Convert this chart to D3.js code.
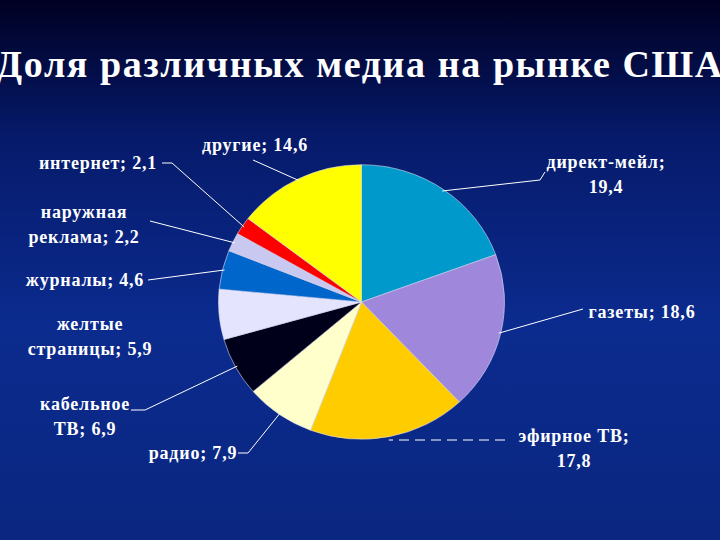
<!DOCTYPE html>
<html><head><meta charset="utf-8">
<script src="https://cdn.jsdelivr.net/npm/d3@7"></script>
<style>body{margin:0;background:#0a2a8a}svg{display:block}</style>
</head><body>
<script>
const categories=["директ-мейл","газеты","эфирное ТВ","радио","кабельное ТВ","желтые страницы","журналы","наружная реклама","интернет","другие"];
const values=[19.4,18.6,17.8,7.9,6.9,5.9,4.6,2.2,2.1,14.6];
const valueLabels=["19,4","18,6","17,8","7,9","6,9","5,9","4,6","2,2","2,1","14,6"];
const colors=["#0099cc","#9f88dc","#ffcc00","#ffffcc","#00001a","#e4e4ff","#0066cc","#c8c8f0","#ff0000","#ffff00"];
const labelLayout=[
 {lines:["директ-мейл;","19,4"],x:606,y:168,anchor:"middle",lx:[545,172],elbow:[540,180]},
 {lines:["газеты; 18,6"],x:642,y:318,anchor:"middle",lx:[583,309],elbow:null},
 {lines:["эфирное ТВ;","17,8"],x:574,y:442,anchor:"middle",lx:[505,440],elbow:null,dash:true,flat:true},
 {lines:["радио; 7,9"],x:193,y:459,anchor:"middle",lx:[238,453],elbow:[248,453]},
 {lines:["кабельное","ТВ; 6,9"],x:85,y:410,anchor:"middle",lx:[131,410],elbow:[145,410]},
 {lines:["желтые","страницы; 5,9"],x:90,y:330,anchor:"middle",lx:null,elbow:null},
 {lines:["журналы; 4,6"],x:85,y:286,anchor:"middle",lx:[148,280],elbow:null},
 {lines:["наружная","реклама; 2,2"],x:84,y:218,anchor:"middle",lx:[150,221],elbow:null},
 {lines:["интернет; 2,1"],x:98,y:169,anchor:"middle",lx:[162,163],elbow:[172,163]},
 {lines:["другие; 14,6"],x:255,y:151,anchor:"middle",lx:[253,160],elbow:null}
];
const W=720,H=540;
const svg=d3.select("body").append("svg").attr("width",W).attr("height",H);
const defs=svg.append("defs");
const g0=defs.append("linearGradient").attr("id","bg").attr("x1",0).attr("y1",0).attr("x2",0).attr("y2",1);
g0.append("stop").attr("offset","0%").attr("stop-color","#000022");
g0.append("stop").attr("offset","25%").attr("stop-color","#061a6a");
g0.append("stop").attr("offset","60%").attr("stop-color","#0b2b8e");
g0.append("stop").attr("offset","100%").attr("stop-color","#0a2680");
svg.append("rect").attr("width",W).attr("height",H).attr("fill","url(#bg)");
svg.append("text").attr("x",360).attr("y",77).attr("text-anchor","middle")
 .attr("font-family","Liberation Serif, serif").attr("font-weight","bold").attr("font-size",38)
 .attr("letter-spacing",1.6).attr("fill","#fff").text("Доля различных медиа на рынке США");
const cx=361.5,cy=302,r=143,sy=0.96;
const pie=d3.pie().sort(null).value(d=>d)(values);
const arc=d3.arc().innerRadius(0).outerRadius(r);
const pg=svg.append("g").attr("transform",`translate(${cx},${cy}) scale(1,${sy})`);
pg.selectAll("path").data(pie).join("path").attr("d",arc)
 .attr("fill",(d,i)=>colors[i]).attr("stroke","#dde").attr("stroke-width",0.6);
const edge=d3.arc().innerRadius(r-2).outerRadius(r-2);
const lg=svg.append("g");
pie.forEach((d,i)=>{
 const L=labelLayout[i];
 const c=edge.centroid(d);
 const ex=cx+c[0], ey=cy+c[1]*sy;
 if(L.lx){
  const pts=[L.lx]; if(L.elbow) pts.push(L.elbow); pts.push(L.flat?[ex,L.lx[1]]:[ex,ey]);
  lg.append("path").attr("d",d3.line()(pts)).attr("fill","none").attr("stroke","#fff")
   .attr("stroke-width",1).attr("stroke-dasharray",L.dash?"10,6":null);
 }
 const t=lg.append("text").attr("x",L.x).attr("y",L.y).attr("text-anchor",L.anchor)
  .attr("font-family","Liberation Serif, serif").attr("font-weight","bold").attr("font-size",18)
  .attr("letter-spacing",0.8).attr("fill","#fff");
 L.lines.forEach((s,k)=>t.append("tspan").attr("x",L.x).attr("dy",k?25:0).text(s));
});
</script>
</body></html>
